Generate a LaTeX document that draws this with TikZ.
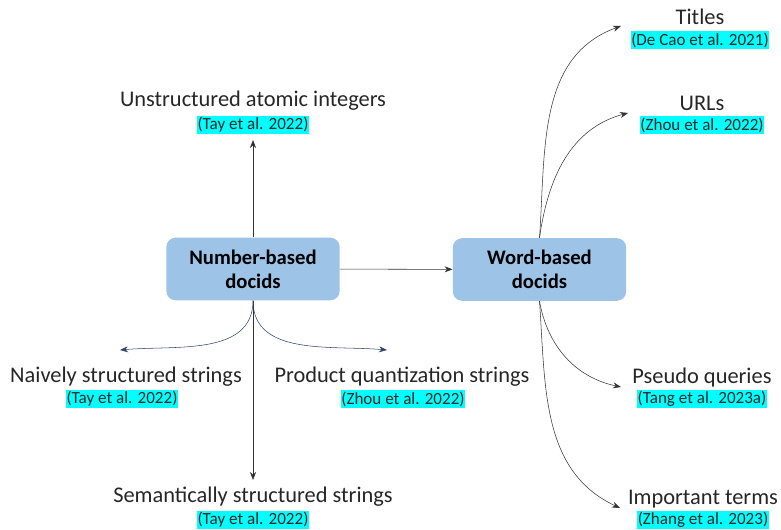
\documentclass[tikz,border=0pt]{standalone}
\usepackage{fontspec}
\setmainfont{Carlito}
\usepackage{xcolor,tikz}
\usetikzlibrary{positioning,arrows.meta}
\tikzset{>={Stealth[length=6pt,width=4.5pt]}}
\definecolor{boxblue}{HTML}{9DC3E6}
\definecolor{citecyan}{HTML}{00FFFF}
\definecolor{linknavy}{HTML}{2F4468}
\definecolor{inkgray}{HTML}{262626}
\tikzset{
  docbox/.style={fill=boxblue, rounded corners=7pt, minimum width=130pt, minimum height=47pt,
    align=center, text=black, font=\fontsize{15.5}{18}\selectfont\bfseries},
  leaf/.style={inner sep=0pt, text=inkgray, font=\fontsize{16.8}{18}\selectfont},
  cite/.style={fill=citecyan, inner xsep=0.5pt, inner ysep=1pt, text=inkgray, font=\fontsize{12.8}{14}\selectfont},
  link/.style={->, thin, draw=black!80},
  navylink/.style={->, thin, draw=linknavy},
}

\begin{document}
\begin{tikzpicture}[x=0.75pt, y=-0.75pt]
\useasboundingbox (0,0) rectangle (781,530);
% the two kinds of docids
\node[docbox] (num) at (253,269) {Number-based\\docids};
\node[docbox] (word) at (539.5,269.5) {Word-based\\docids};
\draw[link] (num) -- (word);
%%%%%%%%%% number-based
\node[leaf] (uai) at (253,101) {Unstructured atomic integers};
\node[cite] (uai-c) at (253,125) {(Tay et al. 2022)};
\node[leaf] (naive) at (126,377) {Naively structured strings};
\node[cite] (naive-c) at (122,399) {(Tay et al. 2022)};
\node[leaf] (pq) at (402,377) {Product quantization strings};
\node[cite] (pq-c) at (403,399) {(Zhou et al. 2022)};
\node[leaf] (sem) at (253,497) {Semantically structured strings};
\node[cite] (sem-c) at (253,520) {(Tay et al. 2022)};
\coordinate (tip-uai) at (253,140);
\coordinate (tip-naive) at (120,350);
\coordinate (tip-pq) at (387,350);
\coordinate (tip-sem) at (253,480);
\draw[link] (num.north) -- (tip-uai);
\draw[link] (num.south) -- (tip-sem);
\draw[navylink] (num.south) to[out=-90, in=5] (tip-naive);
\draw[navylink] (num.south) to[out=-90, in=175] (tip-pq);
%%%%%%%%%% word-based
\node[leaf] (titles) at (700,17) {Titles};
\node[cite] (titles-c) at (700,40) {(De Cao et al. 2021)};
\node[leaf] (urls) at (702,103) {URLs};
\node[cite] (urls-c) at (702,125) {(Zhou et al. 2022)};
\node[leaf] (pseudo) at (702,378) {Pseudo queries};
\node[cite] (pseudo-c) at (702,399) {(Tang et al. 2023a)};
\node[leaf] (terms) at (703,499) {Important terms};
\node[cite] (terms-c) at (703,520) {(Zhang et al. 2023)};
\coordinate (tip-titles) at (621,26);
\coordinate (tip-urls) at (628,113);
\coordinate (tip-pseudo) at (621,387);
\coordinate (tip-terms) at (620,508);
\draw[link] (word.north) to[out=86, in=200] (tip-titles);
\draw[link] (word.north) to[out=82, in=195] (tip-urls);
\draw[link] (word.south) to[out=-80, in=168] (tip-pseudo);
\draw[link] (word.south) to[out=-86, in=155] (tip-terms);
\end{tikzpicture}
\end{document}
